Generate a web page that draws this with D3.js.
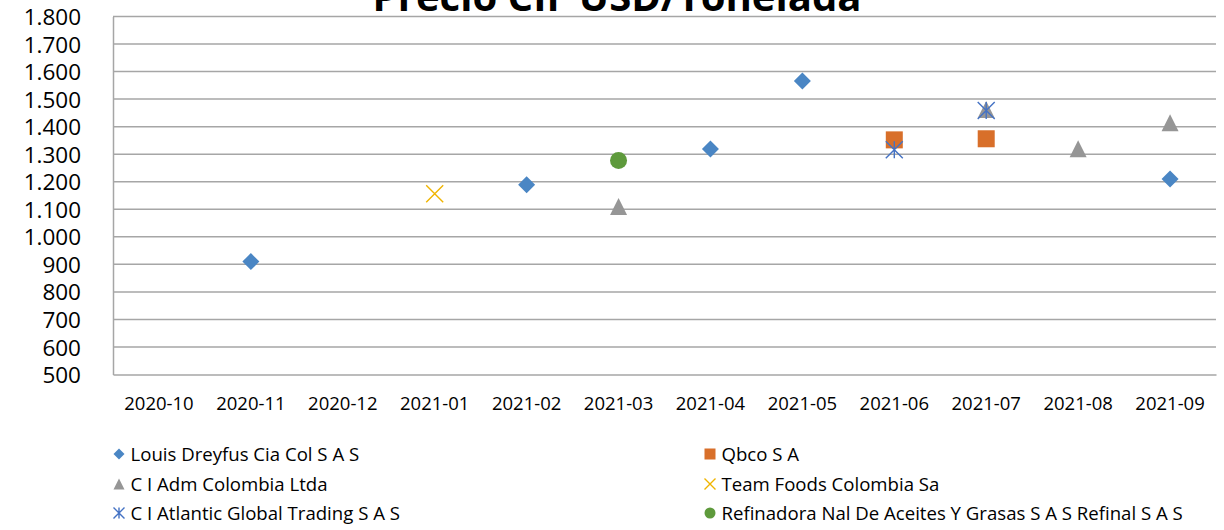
<!DOCTYPE html>
<html>
<head>
<meta charset="utf-8">
<script src="https://cdn.jsdelivr.net/npm/d3@7"></script>
<style>
  body { margin: 0; background: #fff; }
  text { font-family: "Open Sans", "Noto Sans", sans-serif; fill: #000; }
</style>
</head>
<body>
<div id="chart"></div>
<script>
const meses = ["2020-10", "2020-11", "2020-12", "2021-01", "2021-02", "2021-03",
  "2021-04", "2021-05", "2021-06", "2021-07", "2021-08", "2021-09"];

const louisDreyfus = [null, 910, null, null, 1189, null, 1319, 1566, null, null, null, 1210];
const qbco = [null, null, null, null, null, null, null, null, 1352, 1356, null, null];
const ciAdm = [null, null, null, null, null, 1110, null, null, null, 1462, 1320, 1414];
const teamFoods = [null, null, null, 1156, null, null, null, null, null, null, null, null];
const ciAtlantic = [null, null, null, null, null, null, null, null, 1316, 1459, null, null];
const refinal = [null, null, null, null, null, 1277, null, null, null, null, null, null];

const yTicks = [500, 600, 700, 800, 900, 1000, 1100, 1200, 1300, 1400, 1500, 1600, 1700, 1800];

const series = [
  { name: "Louis Dreyfus Cia Col S A S", values: louisDreyfus, shape: "diamond", color: "#4a86c4" },
  { name: "Qbco S A", values: qbco, shape: "square", color: "#d86f2a" },
  { name: "C I Adm Colombia Ltda", values: ciAdm, shape: "triangle", color: "#969696" },
  { name: "Team Foods Colombia Sa", values: teamFoods, shape: "x", color: "#f0b400" },
  { name: "C I Atlantic Global Trading S A S", values: ciAtlantic, shape: "star", color: "#4472c4" },
  { name: "Refinadora Nal De Aceites Y Grasas S A S Refinal S A S", values: refinal, shape: "circle", color: "#5e9a3c" }
];

const W = 1224;
const H = 530;
const M = { top: 16.5, right: 8, bottom: 155.5, left: 113 };

const fmt = d3.formatLocale({ decimal: ",", thousands: ".", grouping: [3], currency: ["$", ""] }).format(",d");

// Text auf eine Breite bringen
function fitText(sel, width) {
  const node = sel.node();
  const size = parseFloat(sel.attr("font-size"));
  const w = node.getComputedTextLength();
  if (w > 0) sel.attr("font-size", size * width / w);
}

function drawMarker(g, shape, color, s) {
  const h = s / 2;
  if (shape === "diamond") {
    g.append("path").attr("d", `M0,${-h}L${h},0L0,${h}L${-h},0Z`).attr("fill", color);
  } else if (shape === "square") {
    g.append("rect").attr("x", -h).attr("y", -h).attr("width", s).attr("height", s).attr("fill", color);
  } else if (shape === "triangle") {
    g.append("path").attr("d", `M0,${-h}L${h},${h}L${-h},${h}Z`).attr("fill", color);
  } else if (shape === "circle") {
    g.append("circle").attr("r", h).attr("fill", color);
  } else if (shape === "x") {
    g.append("path").attr("d", `M${-h},${-h}L${h},${h}M${h},${-h}L${-h},${h}`)
      .attr("stroke", color).attr("stroke-width", 1.4).attr("fill", "none");
  } else if (shape === "star") {
    g.append("path").attr("d", `M${-h},${-h}L${h},${h}M${h},${-h}L${-h},${h}M0,${-h}L0,${h}`)
      .attr("stroke", color).attr("stroke-width", 1.4).attr("fill", "none");
  }
}

function render() {
  const svg = d3.select("#chart").append("svg").attr("width", W).attr("height", H);

  const x = d3.scaleBand()
    .domain(meses)
    .range([M.left, W - M.right]);

  const y = d3.scaleLinear()
    .domain([500, 1800])
    .range([H - M.bottom, M.top]);

  // Gitterlinien
  svg.append("g")
    .selectAll("line")
    .data(yTicks.filter(d => d > 500))
    .join("line")
    .attr("x1", M.left)
    .attr("x2", W - M.right)
    .attr("y1", d => y(d))
    .attr("y2", d => y(d))
    .attr("stroke", "#a6a6a6")
    .attr("stroke-width", 1.5);

  // Achsen
  const yAxis = svg.append("g")
    .attr("transform", `translate(${M.left},0)`)
    .call(d3.axisLeft(y).tickValues(yTicks).tickFormat(fmt).tickSize(0).tickPadding(32));
  yAxis.select(".domain").attr("stroke", "#a6a6a6").attr("stroke-width", 1.5);
  yAxis.selectAll("text").attr("font-size", 22.5).attr("font-family", null).attr("dy", "0.36em");

  const xAxis = svg.append("g")
    .attr("transform", `translate(0,${H - M.bottom})`)
    .call(d3.axisBottom(x).tickSize(0).tickPadding(22));
  xAxis.select(".domain").attr("stroke", "#a6a6a6").attr("stroke-width", 1.5);
  xAxis.selectAll("text").attr("font-size", 18.5).attr("font-family", null);

  // Punkte
  series.forEach(s => {
    svg.append("g")
      .selectAll("g")
      .data(meses.map((m, i) => ({ m, v: s.values[i] })).filter(d => d.v != null))
      .join("g")
      .attr("transform", d => `translate(${x(d.m) + x.bandwidth() / 2},${y(d.v)})`)
      .each(function () { drawMarker(d3.select(this), s.shape, s.color, 17); });
  });

  // Titel
  const title = svg.append("text")
    .attr("x", 617)
    .attr("y", 11)
    .attr("text-anchor", "middle")
    .attr("font-size", 36)
    .attr("font-weight", "700")
    .text("Precio CIF USD/Tonelada");
  fitText(title, 489);

  // Legende
  const legendPos = [
    { x: 119, y: 454 }, { x: 710, y: 454 },
    { x: 119, y: 484 }, { x: 710, y: 484 },
    { x: 119, y: 513 }, { x: 710, y: 513 }
  ];
  series.forEach((s, i) => {
    const p = legendPos[i];
    const g = svg.append("g").attr("transform", `translate(${p.x},${p.y})`);
    drawMarker(g.append("g"), s.shape, s.color, 11);
    g.append("text")
      .attr("x", 11.5)
      .attr("dy", "0.36em")
      .attr("font-size", 18.6)
      .text(s.name);
  });
}

render();
</script>
</body>
</html>
